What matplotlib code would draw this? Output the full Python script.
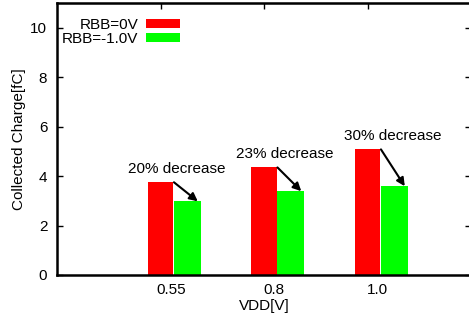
import matplotlib
matplotlib.use('Agg')
import matplotlib.pyplot as plt
import numpy as np

# data
vdd_labels = ['0.55', '0.8', '1.0']
rbb_0v = [3.75, 4.35, 5.08]
rbb_m1v = [2.98, 3.39, 3.59]
decrease_labels = ['20% decrease', '23% decrease', '30% decrease']

plt.rcParams['font.family'] = ['Liberation Sans', 'DejaVu Sans']
plt.rcParams['font.size'] = 11

fig = plt.figure(figsize=(4.69, 3.2), dpi=100)
ax = fig.add_axes([57/469, 45/320, 414/469, 272/320])

pos = np.arange(1, len(vdd_labels) + 1)
w = 0.25
ax.bar(pos, rbb_0v, width=w, color='#ff0000', label='RBB=0V')
ax.bar(pos + w + 0.01, rbb_m1v, width=w + 0.01, color='#00ff00', label='RBB=-1.0V')

# arrows + labels
text_off = [0.16, 0.2, 0.24]
for i, p in enumerate(pos):
    ax.annotate('', xy=(p + 0.36, rbb_m1v[i]), xytext=(p + 0.13, rbb_0v[i]),
                arrowprops=dict(arrowstyle='-|>', color='black', lw=1.5,
                                mutation_scale=12, shrinkA=0, shrinkB=0))
    ax.text(p + text_off[i], rbb_0v[i] + 0.55, decrease_labels[i],
            ha='center', va='center')

ax.set_xlim(0, 4)
ax.set_ylim(0, 11)
ax.set_yticks([0, 2, 4, 6, 8, 10])
ax.set_xticks(pos + 0.1)
ax.set_xticklabels(vdd_labels)
ax.tick_params(axis='x', length=0, pad=6)
ax.tick_params(axis='y', direction='in', length=4, width=1, right=True, pad=7)
for s in ax.spines.values():
    s.set_linewidth(1.8)

top = ax.secondary_xaxis('top')
top.set_xticks(pos)
top.set_xticklabels([])
top.tick_params(direction='in', length=4, width=1)

ax.set_xlabel('VDD[V]', labelpad=1)
ax.set_ylabel('Collected Charge[fC]', labelpad=3)

ax.legend(loc='upper left', bbox_to_anchor=(-0.014, 0.985), frameon=False,
          markerfirst=False, handlelength=2.2, handleheight=0.5,
          labelspacing=0.0, handletextpad=0.5, borderaxespad=0.3)
for t in ax.get_legend().get_texts():
    t.set_ha('right')
ax.get_legend()._legend_box.align = 'right'

fig.savefig('out.png', dpi=100)
